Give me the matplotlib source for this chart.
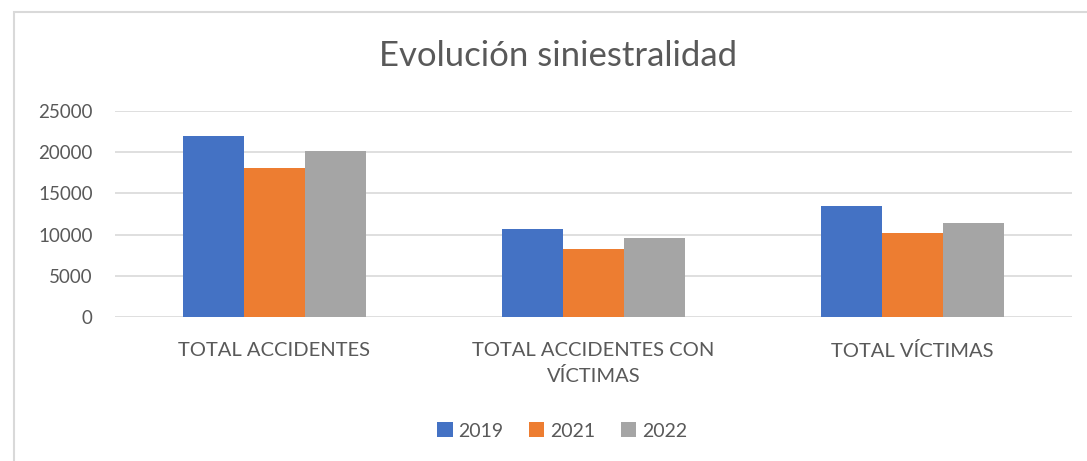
import numpy as np
import matplotlib.pyplot as plt
from matplotlib.patches import Rectangle

categories = ["TOTAL ACCIDENTES", "TOTAL ACCIDENTES CON\nVÍCTIMAS", "TOTAL VÍCTIMAS"]
years = ["2019", "2021", "2022"]
v2019 = [21950, 10700, 13500]
v2021 = [18050, 8300, 10250]
v2022 = [20100, 9600, 11350]
colors = ["#4472C4", "#ED7D31", "#A5A5A5"]
yticks = [0, 5000, 10000, 15000, 20000, 25000]

plt.rcParams["font.family"] = ["Lato", "DejaVu Sans"]
txt = "#595959"

W, H = 1087, 461
fig = plt.figure(figsize=(W / 100, H / 100), dpi=100)
ax = fig.add_axes([115 / W, 1 - 317 / H, (1072 - 115) / W, (317 - 111) / H])

x = np.arange(len(categories))
bw = 0.192
for i, (vals, yr) in enumerate(zip([v2019, v2021, v2022], years)):
    ax.bar(x + (i - 1) * bw, vals, width=bw, color=colors[i], label=yr, zorder=3)

ax.set_xlim(-0.5, len(categories) - 0.5)
ax.set_ylim(0, 25000)
ax.set_yticks(yticks)
ax.set_yticklabels([str(t) for t in yticks], fontsize=13.5, color=txt)
ax.set_xticks(x)
ax.set_xticklabels(categories, fontsize=14.5, color=txt, linespacing=1.55)
ax.tick_params(length=0)
ax.tick_params(axis="y", pad=16)
ax.tick_params(axis="x", pad=18)
ax.grid(axis="y", color="#D9D9D9", linewidth=1.2, zorder=0)
for s in ax.spines.values():
    s.set_visible(False)

fig.text(558 / W, 1 - 56 / H, "Evolución siniestralidad", ha="center", va="center",
         fontsize=25, color=txt)

leg = fig.legend(loc="center", bbox_to_anchor=(562 / W, 1 - 431 / H), ncol=3,
                 frameon=False, fontsize=14, handlelength=0.8, handleheight=0.8,
                 handletextpad=0.3, columnspacing=1.3)
for t in leg.get_texts():
    t.set_color(txt)

# chart frame
fig.patches.append(Rectangle((14 / W, -0.1), 1.2, 1 - 12 / H + 0.1, transform=fig.transFigure,
                             fill=False, edgecolor="#D9D9D9", linewidth=1.5))

fig.savefig("out.png", dpi=100)
